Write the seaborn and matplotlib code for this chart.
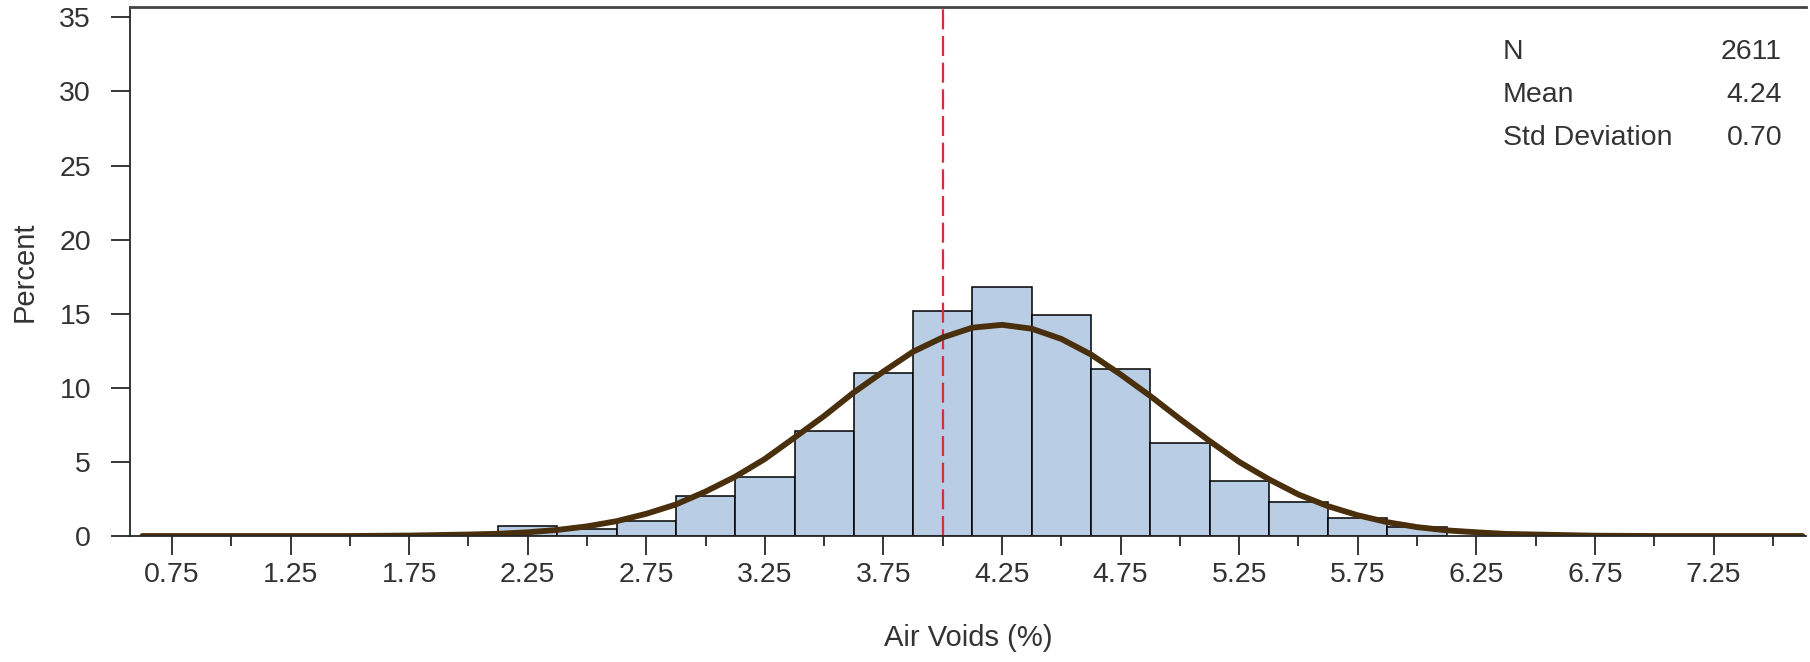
import numpy as np
import pandas as pd
import matplotlib
matplotlib.use('Agg')
from matplotlib import pyplot as plt
from matplotlib.ticker import MultipleLocator, FormatStrFormatter
import seaborn as sns

sns.set_style('ticks')
plt.rcParams['font.family'] = ['Liberation Sans', 'DejaVu Sans']

# histogram bins (centres, width 0.25) and percent per bin
bin_centers = [2.25, 2.5, 2.75, 3.0, 3.25, 3.5, 3.75, 4.0, 4.25, 4.5, 4.75,
               5.0, 5.25, 5.5, 5.75, 6.0]
bin_percent = [0.7, 0.5, 1.0, 2.7, 4.0, 7.1, 11.0, 15.2, 16.8, 14.9, 11.3,
               6.3, 3.7, 2.3, 1.2, 0.6]

# fitted normal curve
curve_x = [0.625, 1.5, 1.75, 2.0, 2.125, 2.25, 2.375, 2.5, 2.625, 2.75, 2.875,
           3.0, 3.125, 3.25, 3.375, 3.5, 3.625, 3.75, 3.875, 4.0, 4.125,
           4.25, 4.375, 4.5, 4.625, 4.75, 4.875, 5.0, 5.125, 5.25, 5.375,
           5.5, 5.625, 5.75, 5.875, 6.0, 6.125, 6.25, 6.375, 6.5, 6.75,
           7.0, 7.625]
curve_y = [0.0, 0.0, 0.03, 0.1, 0.15, 0.25, 0.41, 0.65, 1.0, 1.5, 2.13,
           3.0, 4.0, 5.2, 6.64, 8.1, 9.69, 11.1, 12.44, 13.4, 14.06,
           14.25, 13.99, 13.3, 12.25, 10.9, 9.45, 7.9, 6.41, 5.0, 3.83,
           2.8, 2.01, 1.4, 0.93, 0.6, 0.38, 0.25, 0.14, 0.1, 0.02,
           0.0, 0.0]

target_line = 4.0
stat_names = ['N', 'Mean', 'Std Deviation']
stat_values = ['2611', '4.24', '0.70']

df_bins = pd.DataFrame({'air_voids': bin_centers, 'percent': bin_percent})
df_curve = pd.DataFrame({'x': curve_x, 'y': curve_y})

text_col = '#333333'
fig = plt.figure(figsize=(18.1, 6.62), dpi=100)
ax = fig.add_axes([130 / 1810, 1 - 536 / 662, 1676 / 1810, 529 / 662])

sns.histplot(data=df_bins, x='air_voids', weights='percent',
             binwidth=0.25, binrange=(2.125, 6.125),
             color='#b9cde5', alpha=1, edgecolor='black', linewidth=1.1,
             ax=ax)
ax.axvline(target_line, color='#d62f3a', linestyle=(0, (9, 3)), linewidth=1.6)
sns.lineplot(data=df_curve, x='x', y='y', color='#4a2f0c', linewidth=4.2,
             ax=ax)

ax.set_xlim(0.573, 7.64)
ax.set_ylim(0, 35.7)
ax.xaxis.set_major_locator(MultipleLocator(0.5, offset=0.25))
ax.xaxis.set_minor_locator(MultipleLocator(0.5))
ax.xaxis.set_major_formatter(FormatStrFormatter('%.2f'))
ax.yaxis.set_major_locator(MultipleLocator(5))

ax.tick_params(axis='x', which='major', length=14, width=1.3, pad=5,
               labelsize=20.5, labelcolor=text_col)
ax.tick_params(axis='x', which='minor', length=7, width=1.3)
ax.tick_params(axis='y', length=14, width=1.3, pad=14, labelsize=20.5,
               labelcolor=text_col)

ax.spines['right'].set_visible(False)
ax.spines['top'].set_color('#444444')
ax.spines['top'].set_linewidth(2)
for s in ['left', 'bottom']:
    ax.spines[s].set_linewidth(1.3)

ax.set_xlabel('Air Voids (%)', fontsize=21, color=text_col, labelpad=26)
ax.set_ylabel('Percent', fontsize=21, color=text_col, labelpad=15)

for i, (name, val) in enumerate(zip(stat_names, stat_values)):
    yy = 1 - (52 + 43 * i) / 662
    fig.text(1503 / 1810, yy, name, ha='left', va='center', fontsize=20.5,
             color=text_col)
    fig.text(1782 / 1810, yy, val, ha='right', va='center', fontsize=20.5,
             color=text_col)

fig.savefig('out.png', dpi=100)
